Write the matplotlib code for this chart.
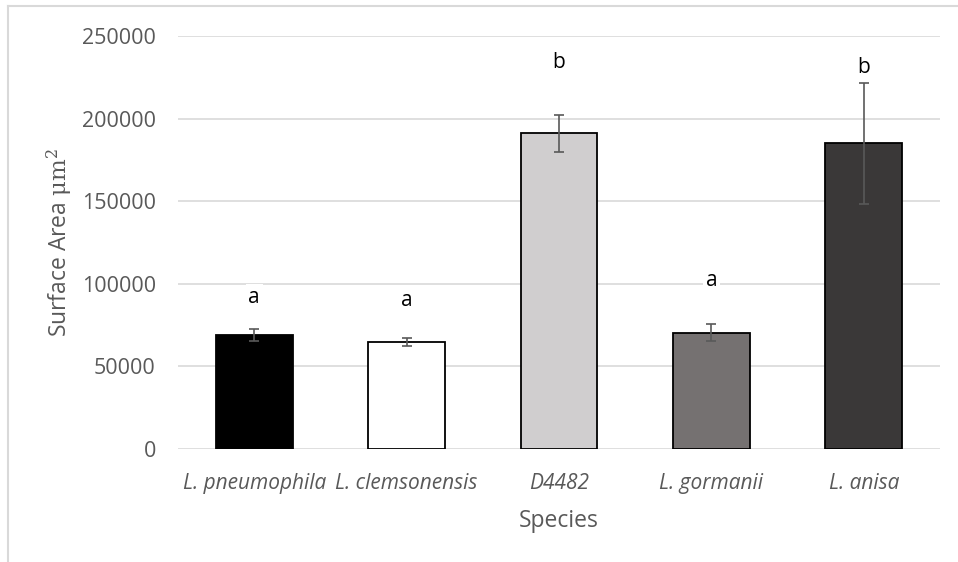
import matplotlib.pyplot as plt
from matplotlib.lines import Line2D

# data
species = ['L. pneumophila', 'L. clemsonensis', 'D4482', 'L. gormanii', 'L. anisa']
area = [69000, 64500, 191000, 70500, 185000]
err = [3500, 2400, 11000, 5000, 36500]
letters = ['a', 'a', 'b', 'a', 'b']
letter_y = [92000, 90000, 234000, 102000, 231000]
colors = ['#000000', '#ffffff', '#d0cecf', '#757171', '#3a3838']

plt.rcParams['font.family'] = ['Open Sans', 'DejaVu Sans']
plt.rcParams['mathtext.fontset'] = 'dejavuserif'

fig = plt.figure(figsize=(9.58, 5.62), dpi=100)
ax = fig.add_axes([0.1858, 0.2011, 0.9812 - 0.1858, 0.9359 - 0.2011])

x = range(len(species))
ax.bar(x, area, width=0.505, color=colors, edgecolor='black', linewidth=1.3, zorder=2)
ax.errorbar(x, area, yerr=err, fmt='none', ecolor='#595959', elinewidth=1.2,
            capsize=3.5, capthick=1.2, zorder=3)

for i, (t, yy) in enumerate(zip(letters, letter_y)):
    ax.text(i, yy, t, ha='center', va='center', fontsize=15, color='black',
            bbox=dict(facecolor='white', edgecolor='none', pad=2), zorder=4)

ax.set_ylim(0, 250000)
ax.set_xlim(-0.5, 4.5)
ax.set_yticks(range(0, 250001, 50000))
ax.yaxis.grid(True, color='#d9d9d9', linewidth=1.2)
ax.set_axisbelow(True)
for s in ax.spines.values():
    s.set_visible(False)
ax.tick_params(length=0, colors='#595959', labelsize=15.5)
ax.tick_params(axis='y', pad=16)
ax.tick_params(axis='x', pad=17)
ax.set_xticks(list(x))
ax.set_xticklabels(species, style='italic', fontsize=15)

ax.set_ylabel(r'Surface Area $\mathrm{\mu m^2}$', fontsize=16.5, color='#595959', labelpad=5)
ax.set_xlabel('Species', fontsize=16.5, color='#595959', labelpad=11)

# chart border (Excel style frame)
fig.add_artist(Line2D([8 / 958, 8 / 958], [0, 1 - 6 / 562], color='#d9d9d9', lw=1.5))
fig.add_artist(Line2D([8 / 958, 1], [1 - 6 / 562, 1 - 6 / 562], color='#d9d9d9', lw=1.5))

fig.savefig('out.png', dpi=100)
